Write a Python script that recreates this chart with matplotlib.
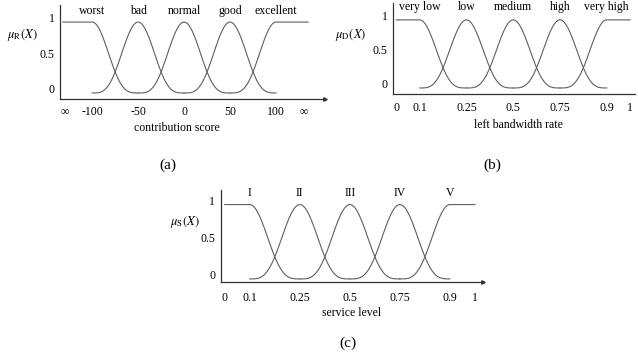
"""Fuzzy membership functions: contribution score, left bandwidth rate, service level."""

import matplotlib

matplotlib.use("Agg")
import matplotlib.pyplot as plt
import matplotlib.transforms as mtransforms
import numpy as np

plt.rcParams.update(
    {
        "font.family": ["Liberation Serif", "DejaVu Serif"],
        "mathtext.fontset": "stix",
        "font.size": 8.5,
    }
)

# (a) contribution score
score_sets = ["worst", "bad", "normal", "good", "excellent"]
score_centers = [-100, -50, 0, 50, 100]
score_span = (-132, 135)
score_ticks = [-130, -100, -50, 0, 50, 100, 130]
score_ticklabels = ["\u221e", "-100", "-50", "0", "50", "100", "\u221e"]

# (b) left bandwidth rate
bw_sets = ["very low", "low", "medium", "high", "very high"]
bw_centers = [0.1, 0.25, 0.5, 0.75, 0.9]
bw_span = (0.0, 1.0)
bw_ticks = [0, 0.1, 0.25, 0.5, 0.75, 0.9, 1]
bw_ticklabels = ["0", "0.1", "0.25", "0.5", "0.75", "0.9", "1"]

# (c) service level
sl_sets = ["I", "II", "III", "IV", "V"]
sl_centers = [0.1, 0.25, 0.5, 0.75, 0.9]
sl_span = (0.0, 1.0)
sl_ticks = [0, 0.1, 0.25, 0.5, 0.75, 0.9, 1]
sl_ticklabels = ["0", "0.1", "0.25", "0.5", "0.75", "0.9", "1"]

LINE = "#5f5f5f"
AXIS = "#333333"


def bell(t):
    # smooth 1 -> 0 over t in [0, 1], crossing ~0.3 at the midpoint
    return (0.5 + 0.5 * np.cos(np.pi * np.clip(t, 0, 1))) ** 1.75


def membership_curves(centers, span):
    curves = []
    n = len(centers)
    for i in range(n):
        xs, ys = [], []
        if i == 0:
            xs += [span[0], centers[0]]
            ys += [1.0, 1.0]
        else:
            x = np.linspace(centers[i - 1], centers[i], 60)
            t = (centers[i] - x) / (centers[i] - centers[i - 1])
            xs += list(x)
            ys += list(bell(t))
        if i == n - 1:
            xs += [centers[-1], span[1]]
            ys += [1.0, 1.0]
        else:
            x = np.linspace(centers[i], centers[i + 1], 60)
            t = (x - centers[i]) / (centers[i + 1] - centers[i])
            xs += list(x)
            ys += list(bell(t))
        curves.append((np.array(xs), np.array(ys)))
    return curves


def rate_scale():
    # schematic axis: equal spacing between the set centres
    knots = [-1.0, 0.0, 0.1, 0.25, 0.5, 0.75, 0.9, 1.0, 2.0]
    pos = [-5.5, -0.5, 0.0, 1.0, 2.0, 3.0, 4.0, 4.5, 9.5]

    def fwd(x):
        return np.interp(x, knots, pos)

    def inv(p):
        return np.interp(p, pos, knots)

    return fwd, inv


def draw_panel(ax, sets, centers, span, ticks, ticklabels, xlabel, ylab,
               xlim, ylim, label_y, ylab_xy, tick_pad, xlabel_xy, scaled, arrow):
    if scaled:
        ax.set_xscale("function", functions=rate_scale())
    for x, y in membership_curves(centers, span):
        ax.plot(x, y, color=LINE, lw=0.8)
    for name, c in zip(sets, centers):
        ax.text(c, label_y, name, ha="center", va="center", fontsize=8.5)
    ax.set_xlim(*xlim)
    ax.set_ylim(*ylim)
    ax.set_xticks(ticks)
    ax.set_xticklabels(ticklabels)
    ax.set_yticks([0, 0.5, 1])
    ax.set_yticklabels(["0", "0.5", "1"])
    ax.tick_params(length=0, labelsize=8.5)
    ax.tick_params(axis="x", pad=tick_pad)
    ax.tick_params(axis="y", pad=4)
    shift = mtransforms.ScaledTranslation(0, 3 / 72, ax.figure.dpi_scale_trans)
    for lab in ax.get_yticklabels():
        lab.set_transform(lab.get_transform() + shift)
    ax.set_xlabel(xlabel, fontsize=8.5)
    ax.xaxis.set_label_coords(*xlabel_xy)
    ax.text(ylab_xy[0], ylab_xy[1], ylab, transform=ax.get_yaxis_transform(),
            ha="left", va="center", fontsize=9)
    for side in ("top", "right"):
        ax.spines[side].set_visible(False)
    for side in ("left", "bottom"):
        ax.spines[side].set_color(AXIS)
        ax.spines[side].set_linewidth(0.9)
    if arrow:
        ax.plot(1, 0, ">", transform=ax.transAxes, clip_on=False,
                color=AXIS, ms=2.5)


fig = plt.figure(figsize=(6.38, 3.6), dpi=100)

ax_a = fig.add_axes([0.094, 0.725, 0.415, 0.261])
draw_panel(ax_a, score_sets, score_centers, score_span, score_ticks,
           score_ticklabels, "contribution score", r"$\mu_{\mathrm{R}}(X)$",
           (-135, 153), (-0.085, 1.24), 1.16, (-0.2, 0.82), 5.0,
           (0.44, -0.24), False, True)

ax_b = fig.add_axes([0.616, 0.739, 0.379, 0.253])
draw_panel(ax_b, bw_sets, bw_centers, bw_span, bw_ticks, bw_ticklabels,
           "left bandwidth rate", r"$\mu_{\mathrm{D}}(X)$",
           (-0.014, 1.02), (-0.088, 1.25), 1.19, (-0.24, 0.78), 5.5,
           (0.52, -0.27), True, False)

ax_c = fig.add_axes([0.346, 0.217, 0.411, 0.256])
draw_panel(ax_c, sl_sets, sl_centers, sl_span, sl_ticks, sl_ticklabels,
           "service level", r"$\mu_{\mathrm{S}}(X)$",
           (-0.016, 1.032), (-0.04, 1.2), 1.16, (-0.195, 0.77), 7.0,
           (0.5, -0.277), True, True)

fig.text(0.263, 0.542, "(a)", ha="center", va="center", fontsize=11)
fig.text(0.771, 0.542, "(b)", ha="center", va="center", fontsize=11)
fig.text(0.545, 0.047, "(c)", ha="center", va="center", fontsize=11)

fig.savefig("out.png", dpi=100, facecolor="white")
